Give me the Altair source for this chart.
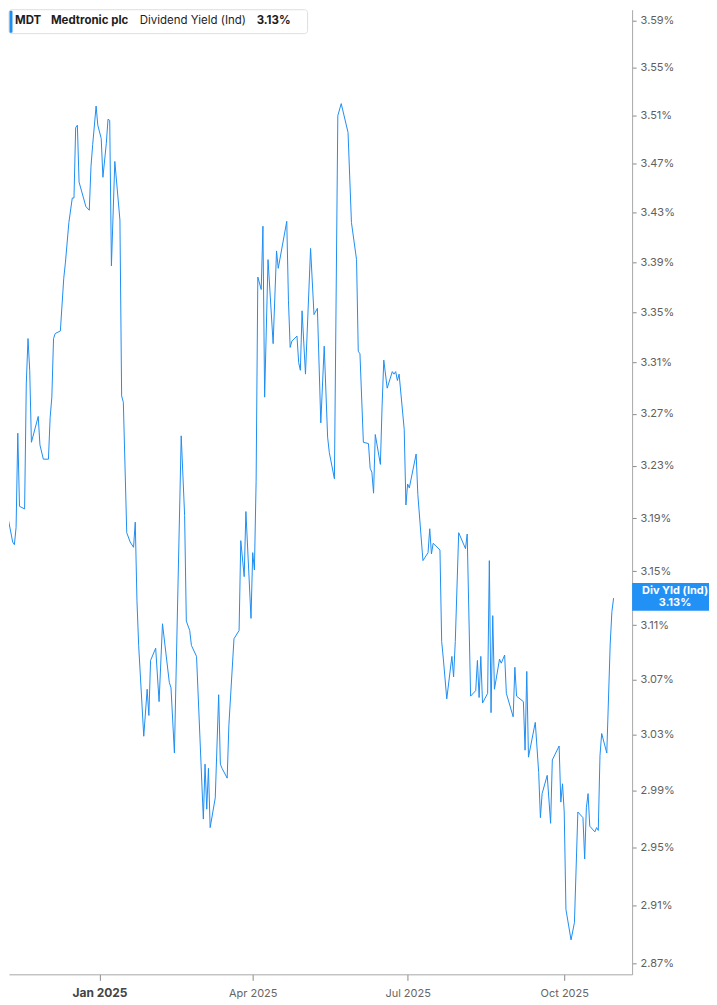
import pandas as pd
import altair as alt

# daily indicated dividend yield (%)
dates = [
    "2024-11-04", "2024-11-06", "2024-11-07", "2024-11-08", "2024-11-11", "2024-11-12",
    "2024-11-13", "2024-11-14", "2024-11-15", "2024-11-18", "2024-11-19", "2024-11-20",
    "2024-11-21", "2024-11-22", "2024-11-26", "2024-11-27", "2024-11-29", "2024-12-02",
    "2024-12-03", "2024-12-04", "2024-12-05", "2024-12-06", "2024-12-09", "2024-12-11",
    "2024-12-12", "2024-12-14", "2024-12-16", "2024-12-17", "2024-12-18", "2024-12-19",
    "2024-12-20", "2024-12-24", "2024-12-26", "2024-12-27", "2024-12-28", "2024-12-30",
    "2024-12-31", "2025-01-02", "2025-01-03", "2025-01-05", "2025-01-06", "2025-01-07",
    "2025-01-08", "2025-01-10", "2025-01-13", "2025-01-14", "2025-01-15", "2025-01-17",
    "2025-01-19", "2025-01-21", "2025-01-22", "2025-01-23", "2025-01-24", "2025-01-27",
    "2025-01-29", "2025-01-30", "2025-01-31", "2025-02-03", "2025-02-05", "2025-02-07",
    "2025-02-11", "2025-02-12", "2025-02-14", "2025-02-18", "2025-02-20", "2025-02-21",
    "2025-02-23", "2025-02-24", "2025-02-27", "2025-03-03", "2025-03-04", "2025-03-05",
    "2025-03-06", "2025-03-07", "2025-03-10", "2025-03-12", "2025-03-13", "2025-03-14",
    "2025-03-17", "2025-03-18", "2025-03-21", "2025-03-24", "2025-03-25", "2025-03-27",
    "2025-03-28", "2025-03-31", "2025-04-01", "2025-04-02", "2025-04-03", "2025-04-04",
    "2025-04-06", "2025-04-07", "2025-04-08", "2025-04-10", "2025-04-13", "2025-04-15",
    "2025-04-16", "2025-04-21", "2025-04-22", "2025-04-23", "2025-04-24", "2025-04-27",
    "2025-04-28", "2025-04-29", "2025-04-30", "2025-05-02", "2025-05-05", "2025-05-07",
    "2025-05-09", "2025-05-11", "2025-05-13", "2025-05-15", "2025-05-16", "2025-05-19",
    "2025-05-21", "2025-05-23", "2025-05-27", "2025-05-29", "2025-06-01", "2025-06-02",
    "2025-06-03", "2025-06-05", "2025-06-08", "2025-06-09", "2025-06-10", "2025-06-11",
    "2025-06-12", "2025-06-15", "2025-06-16", "2025-06-17", "2025-06-19", "2025-06-22",
    "2025-06-23", "2025-06-24", "2025-06-25", "2025-06-26", "2025-06-29", "2025-06-30",
    "2025-07-01", "2025-07-02", "2025-07-06", "2025-07-07", "2025-07-10", "2025-07-13",
    "2025-07-14", "2025-07-15", "2025-07-16", "2025-07-20", "2025-07-21", "2025-07-22",
    "2025-07-24", "2025-07-27", "2025-07-28", "2025-07-29", "2025-07-31", "2025-08-04",
    "2025-08-05", "2025-08-07", "2025-08-10", "2025-08-11", "2025-08-12", "2025-08-13",
    "2025-08-14", "2025-08-17", "2025-08-18", "2025-08-19", "2025-08-20", "2025-08-21",
    "2025-08-24", "2025-08-25", "2025-08-27", "2025-08-28", "2025-09-01", "2025-09-02",
    "2025-09-03", "2025-09-07", "2025-09-08", "2025-09-09", "2025-09-10", "2025-09-14",
    "2025-09-16", "2025-09-17", "2025-09-18", "2025-09-21", "2025-09-23", "2025-09-24",
    "2025-09-28", "2025-09-29", "2025-09-30", "2025-10-01", "2025-10-02", "2025-10-05",
    "2025-10-07", "2025-10-09", "2025-10-12", "2025-10-13", "2025-10-14", "2025-10-15",
    "2025-10-16", "2025-10-19", "2025-10-20", "2025-10-21", "2025-10-22", "2025-10-23",
    "2025-10-26", "2025-10-28", "2025-10-29", "2025-10-30",
]
yields = [
    3.135, 3.108, 3.176, 3.192, 3.172, 3.170,
    3.183, 3.255, 3.199, 3.197, 3.294, 3.329,
    3.304, 3.248, 3.268, 3.246, 3.235, 3.235,
    3.267, 3.283, 3.329, 3.333, 3.335, 3.377,
    3.390, 3.422, 3.442, 3.442, 3.500, 3.502,
    3.455, 3.435, 3.432, 3.468, 3.486, 3.518,
    3.502, 3.491, 3.459, 3.487, 3.507, 3.506,
    3.387, 3.472, 3.424, 3.284, 3.279, 3.179,
    3.172, 3.168, 3.187, 3.128, 3.095, 3.029,
    3.063, 3.044, 3.084, 3.093, 3.054, 3.111,
    3.068, 3.064, 3.017, 3.253, 3.192, 3.113,
    3.106, 3.095, 3.087, 2.970, 3.009, 2.977,
    3.006, 2.964, 2.985, 3.059, 3.009, 3.006,
    2.999, 3.037, 3.100, 3.106, 3.173, 3.146,
    3.195, 3.115, 3.164, 3.151, 3.218, 3.378,
    3.368, 3.419, 3.283, 3.392, 3.325, 3.399,
    3.385, 3.423, 3.359, 3.322, 3.327, 3.331,
    3.310, 3.304, 3.351, 3.301, 3.401, 3.348,
    3.353, 3.263, 3.323, 3.252, 3.240, 3.220,
    3.510, 3.520, 3.496, 3.422, 3.392, 3.319,
    3.317, 3.248, 3.247, 3.228, 3.225, 3.209,
    3.254, 3.231, 3.276, 3.312, 3.290, 3.303,
    3.301, 3.303, 3.296, 3.301, 3.258, 3.200,
    3.216, 3.213, 3.239, 3.208, 3.158, 3.164,
    3.182, 3.163, 3.171, 3.166, 3.098, 3.085,
    3.056, 3.087, 3.072, 3.098, 3.179, 3.167,
    3.178, 3.058, 3.062, 3.084, 3.057, 3.087,
    3.053, 3.060, 3.158, 3.046, 3.117, 3.063,
    3.085, 3.082, 3.088, 3.060, 3.043, 3.079,
    3.058, 3.054, 3.019, 3.076, 3.014, 3.039,
    3.003, 2.971, 2.988, 3.001, 2.967, 3.012,
    3.022, 2.982, 2.995, 2.975, 2.907, 2.886,
    2.898, 2.975, 2.971, 2.942, 2.978, 2.988,
    2.965, 2.961, 2.964, 2.962, 3.015, 3.031,
    3.017, 3.096, 3.120, 3.130,
]

y_ticks = [2.87, 2.91, 2.95, 2.99, 3.03, 3.07, 3.11, 3.15, 3.19,
           3.23, 3.27, 3.31, 3.35, 3.39, 3.43, 3.47, 3.51, 3.55, 3.59]
x_ticks = [(2025, 1), (2025, 4), (2025, 7), (2025, 10)]

header = ["MDT", "Medtronic plc", "Dividend Yield (Ind)", "3.13%"]
tag_lines = ["Div Yld (Ind)", "3.13%"]

df = pd.DataFrame({'date': dates, 'yield': yields})

FONT = 'Inter'
BLUE = '#1f8ef1'

line = alt.Chart(df).mark_line(color=BLUE, strokeWidth=1, clip=True).encode(
    x=alt.X('date:T', title=None,
            scale=alt.Scale(type='utc', domain=[
                alt.DateTime(year=2024, month=11, date=8, hours=20, utc=True),
                alt.DateTime(year=2025, month=11, date=9, hours=21, utc=True)]),
            axis=alt.Axis(
                values=[alt.DateTime(year=y, month=m, date=1, utc=True) for y, m in x_ticks],
                labelExpr="utcFormat(datum.value, '%b %Y')",
                labelFontWeight={"condition": {"test": "utcmonth(datum.value) === 0", "value": "bold"},
                                 "value": "normal"},
                labelFontSize={"condition": {"test": "utcmonth(datum.value) === 0", "value": 12},
                               "value": 11},
                labelColor={"condition": {"test": "utcmonth(datum.value) === 0", "value": "#444444"},
                            "value": "#666666"},
                tickSize=6, labelPadding=7)),
    y=alt.Y('yield:Q', title=None,
            scale=alt.Scale(type='log', domain=[2.8625, 3.5994], nice=False, zero=False),
            axis=alt.Axis(orient='right', values=y_ticks,
                          labelExpr="format(datum.value, '.2f') + '%'",
                          tickSize=4, labelPadding=4, labelColor='#5f5f5f'))
)

anno = alt.Chart(pd.DataFrame({'k': [0]}))

box = anno.mark_rect(fill='white', stroke='#dedede', strokeWidth=1, cornerRadius=3).encode(
    x=alt.value(0), x2=alt.value(299), y=alt.value(0), y2=alt.value(24))
bar = anno.mark_rect(fill=BLUE, cornerRadius=1).encode(
    x=alt.value(0.5), x2=alt.value(3.5), y=alt.value(1), y2=alt.value(23))

head_x = [6, 42, 131, 248]
head_bold = [True, True, False, True]
texts = [
    anno.mark_text(text=t, align='left', baseline='middle', font=FONT, fontSize=11.5,
                   fontWeight='bold' if b else 'normal', color='#1d1d1d').encode(
        x=alt.value(px), y=alt.value(11))
    for t, px, b in zip(header, head_x, head_bold)
]

tag = anno.mark_rect(fill='#2291f5').encode(
    x=alt.value(624), x2=alt.value(701), y=alt.value(574), y2=alt.value(602))
tag_texts = [
    anno.mark_text(text=t, align='center', baseline='middle', font=FONT, fontSize=11,
                   fontWeight='bold', color='white').encode(x=alt.value(667), y=alt.value(py))
    for t, py in zip(tag_lines, [582, 594])
]

chart = alt.layer(line, box, bar, *texts, tag, *tag_texts).properties(
    width=624,
    height=966,
    padding=0
).configure_view(
    stroke=None
).configure_axis(
    grid=False,
    labelFont=FONT,
    labelFontSize=11,
    domainColor='#a8a8a8',
    tickColor='#8a8a8a'
)

chart.save("out.html", embed_options={"renderer": "svg", "actions": False})
